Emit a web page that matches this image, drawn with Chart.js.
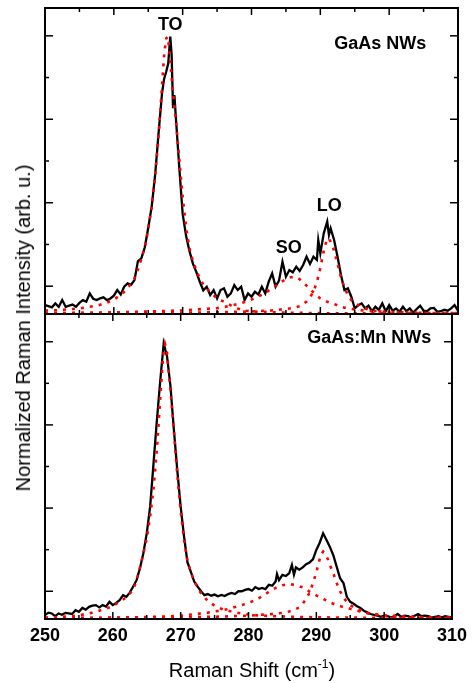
<!DOCTYPE html>
<html>
<head>
<meta charset="utf-8">
<script src="https://cdn.jsdelivr.net/npm/chart.js@4"></script>
<style>
html,body{margin:0;padding:0;background:#fff;}
body{width:473px;height:683px;position:relative;overflow:hidden;font-family:"Liberation Sans",Arial,sans-serif;color:#000;}
#topWrap{position:absolute;left:0;top:0;width:473px;height:330px;}
#botWrap{position:absolute;left:0;top:300px;width:473px;height:383px;}
.ytitle{position:absolute;left:23px;top:328px;transform:translate(-50%,-50%) rotate(-90deg);white-space:nowrap;font-size:20px;line-height:22px;}
.xtitle{position:absolute;left:252px;top:670px;transform:translate(-50%,-50%);white-space:nowrap;font-size:20px;line-height:22px;}
.xtitle sup{font-size:12px;line-height:0;vertical-align:9px;}
</style>
</head>
<body>
<div id="topWrap"><canvas id="topChart"></canvas></div>
<div id="botWrap"><canvas id="botChart"></canvas></div>
<div class="ytitle">Normalized Raman Intensity (arb. u.)</div>
<div class="xtitle">Raman Shift (cm<sup>-1</sup>)</div>
<script>
// ---------- axis ticks ----------
const xMajorTicks = [250, 260, 270, 280, 290, 300, 310];
const xMinorTicks = [255, 265, 275, 285, 295, 305];
const yMajorTicks = [0.1, 0.4, 0.7, 1.0];
const yMinorTicks = [0.25, 0.55, 0.85];

// ---------- GaAs NWs (top panel): measured spectrum ----------
const gaasShift = [
250,250.5,251,251.5,252,252.5,253,253.5,254,254.5,
255,255.5,256,256.5,257,257.5,258,258.5,259,259.5,
260,260.5,261,261.5,262,262.5,263,263.5,264,264.5,
265,265.5,266,266.5,267,267.3,267.6,267.9,268.2,268.4,
268.6,268.8,269,269.5,270,270.5,271,271.5,272,272.5,
273,273.5,274,274.5,275,275.5,276,276.5,277,277.5,
278,278.5,279,279.5,280,280.5,281,281.5,282,282.5,
283,283.5,284,284.5,285,285.5,286,286.5,287,287.5,
288,288.5,289,289.5,289.7,290,290.5,291,291.25,291.5,
292,292.5,293,293.5,294,294.5,295,295.5,296,296.5,
297,297.5,298,298.5,299,299.5,300,300.5,301,301.5,
302,302.5,303,303.5,304,304.5,305,305.5,306,306.5,
307,307.5,308,308.5,309,309.5,310];
const gaasIntensity = [
0.032,0.028,0.024,0.038,0.026,0.050,0.026,0.030,0.034,0.026,
0.040,0.050,0.044,0.074,0.055,0.050,0.056,0.060,0.050,0.056,
0.066,0.086,0.070,0.098,0.110,0.105,0.122,0.190,0.200,0.240,
0.310,0.386,0.500,0.650,0.793,0.845,0.870,0.900,0.997,0.930,
0.740,0.787,0.710,0.530,0.360,0.280,0.225,0.180,0.150,0.115,
0.085,0.098,0.068,0.086,0.056,0.086,0.092,0.062,0.074,0.104,
0.086,0.098,0.050,0.074,0.062,0.080,0.070,0.098,0.074,0.116,
0.146,0.098,0.120,0.188,0.134,0.158,0.150,0.170,0.155,0.176,
0.206,0.180,0.206,0.194,0.266,0.218,0.290,0.332,0.284,0.308,
0.266,0.206,0.140,0.086,0.092,0.062,0.020,0.032,0.038,0.020,
0.030,0.010,0.026,0.015,0.038,0.010,0.032,0.012,0.020,0.008,
0.026,0.010,0.020,0.005,0.018,0.030,0.012,0.010,0.020,0.022,
0.008,0.010,0.015,0.012,0.020,0.032,0.012];

// ---------- GaAs NWs: fitted components ----------
const gaasTOShift = [250,252,254,255,256,257,258,259,260,261,262,263,263.5,264,264.5,265,265.5,266,266.5,267,267.3,267.6,267.8,268,268.5,269,269.5,270,270.5,271,271.5,272,272.5,273,274,275,276,277,278,279,280,285,290,300,310];
const gaasTOFit = [0.012,0.014,0.018,0.020,0.024,0.028,0.033,0.041,0.052,0.068,0.092,0.128,0.160,0.198,0.240,0.305,0.385,0.495,0.640,0.820,0.930,0.990,0.997,0.965,0.820,0.700,0.560,0.420,0.310,0.235,0.190,0.155,0.128,0.106,0.078,0.056,0.044,0.031,0.020,0.012,0.009,0.005,0.003,0.002,0.002];
const gaasSOShift = [250,255,260,265,270,273,275,276,277,278,279,280,281,282,283,284,285,285.7,286.4,287,287.9,288.5,289.3,290,291,292,293,294,295,297,300,305,310];
const gaasSOFit = [0.003,0.004,0.006,0.009,0.013,0.018,0.021,0.025,0.030,0.036,0.043,0.052,0.063,0.076,0.092,0.110,0.125,0.132,0.133,0.125,0.104,0.090,0.070,0.056,0.044,0.036,0.026,0.020,0.016,0.011,0.007,0.004,0.003];
const gaasLOShift = [250,260,270,275,280,283,285,286,287,287.5,288,288.5,289,289.5,290,290.5,291,291.4,291.9,292.4,293,293.5,294,294.5,295,296,297,298,300,305,310];
const gaasLOFit = [0.003,0.004,0.005,0.006,0.009,0.013,0.018,0.022,0.028,0.035,0.045,0.060,0.080,0.115,0.165,0.228,0.272,0.265,0.235,0.190,0.132,0.095,0.068,0.050,0.038,0.025,0.016,0.011,0.007,0.004,0.003];

// ---------- GaAs:Mn NWs (bottom panel): measured spectrum ----------
const mnShift = [
250,250.5,251,251.5,252,252.5,253,253.5,254,254.5,
255,255.5,256,256.5,257,257.5,258,258.5,259,259.5,
260,260.5,261,261.5,262,262.5,263,263.5,264,264.5,
265,265.5,266,266.5,267,267.5,268,268.5,269,269.5,
270,270.5,271,271.5,272,272.5,273,273.5,274,274.5,
275,275.5,276,276.5,277,277.5,278,278.5,279,279.5,
280,280.5,281,281.5,282,282.5,283,283.5,284,284.2,
284.5,285,285.5,286,286.4,286.7,287,287.5,288,288.5,
289,289.5,290,290.5,291,291.5,292,292.5,293,293.5,
294,294.5,295,295.5,296,296.5,297,297.5,298,298.5,
299,299.5,300,300.5,301,301.5,302,302.5,303,303.5,
304,304.5,305,305.5,306,306.5,307,307.5,308,308.5,
309,309.5,310];
const mnIntensity = [
0.014,0.023,0.020,0.010,0.020,0.015,0.022,0.020,0.018,0.032,
0.026,0.040,0.034,0.044,0.048,0.050,0.042,0.050,0.045,0.062,
0.050,0.058,0.068,0.086,0.080,0.095,0.117,0.140,0.183,0.237,
0.309,0.405,0.561,0.718,0.862,0.994,0.946,0.838,0.682,0.537,
0.405,0.297,0.205,0.170,0.135,0.117,0.100,0.086,0.090,0.084,
0.088,0.082,0.087,0.083,0.090,0.094,0.090,0.100,0.100,0.105,
0.108,0.102,0.115,0.108,0.112,0.108,0.123,0.120,0.135,0.162,
0.140,0.159,0.155,0.165,0.195,0.160,0.186,0.178,0.186,0.198,
0.204,0.215,0.249,0.275,0.309,0.285,0.260,0.230,0.189,0.147,
0.130,0.080,0.062,0.055,0.046,0.040,0.030,0.024,0.018,0.015,
0.012,0.008,0.012,0.010,0.006,0.010,0.018,0.008,0.012,0.010,
0.006,0.012,0.018,0.010,0.012,0.010,0.006,0.008,0.010,0.006,
0.010,0.008,0.006];

// ---------- GaAs:Mn NWs: fitted components ----------
const mnTOShift = [250,252,254,255,256,257,258,259,260,261,262,263,263.5,264,264.5,265,265.5,266,266.5,267,267.4,267.7,268,268.4,268.7,269,269.5,270,270.5,271,271.5,272,272.5,273,274,275,276,277,278,279,280,282,285,290,295,300,310];
const mnTOFit = [0.005,0.007,0.010,0.013,0.018,0.023,0.030,0.037,0.047,0.062,0.078,0.105,0.140,0.185,0.235,0.290,0.370,0.470,0.610,0.800,0.946,0.990,0.960,0.850,0.766,0.680,0.520,0.390,0.285,0.210,0.168,0.138,0.113,0.093,0.065,0.048,0.037,0.030,0.024,0.020,0.016,0.012,0.009,0.006,0.005,0.004,0.003];
const mnSOShift = [250,255,260,265,268,270,272,274,276,277,278,279,280,281,282,283,284,285,286,287,288,289,290,291,292,293,294,295,296,297,298,300,303,306,310];
const mnSOFit = [0.003,0.004,0.005,0.007,0.009,0.012,0.017,0.023,0.031,0.036,0.043,0.050,0.058,0.068,0.082,0.098,0.112,0.122,0.126,0.122,0.114,0.099,0.085,0.073,0.060,0.050,0.043,0.037,0.030,0.024,0.019,0.013,0.009,0.006,0.005];
const mnLOShift = [250,260,270,275,280,283,285,286,287,287.5,288,288.5,289,289.5,290,290.4,290.7,291,291.3,291.75,292,292.5,293,293.5,294,294.5,295,296,297,298,300,303,306,310];
const mnLOFit = [0.003,0.004,0.006,0.008,0.012,0.017,0.022,0.027,0.036,0.042,0.055,0.072,0.095,0.129,0.168,0.207,0.233,0.243,0.235,0.213,0.195,0.165,0.130,0.100,0.077,0.062,0.050,0.036,0.025,0.018,0.011,0.007,0.005,0.004];

// ---------- panel annotations (text, x in cm-1, y in normalized units) ----------
const topNotes = [
  {text: 'TO', x: 268.2, y: 1.046},
  {text: 'SO', x: 285.4, y: 0.242},
  {text: 'LO', x: 291.3, y: 0.392},
  {text: 'GaAs NWs', x: 298.7, y: 0.977}
];
const bottomNotes = [
  {text: 'GaAs:Mn NWs', x: 297.8, y: 1.018}
];

const FONT = '"Liberation Sans", Arial, Helvetica, sans-serif';

function pts(xs, ys) { return xs.map((x, i) => ({x: x, y: ys[i]})); }

const frameTicks = {
  id: 'frameTicks',
  afterDatasetsDraw(chart) {
    const ctx = chart.ctx, a = chart.chartArea, xs = chart.scales.x, ys = chart.scales.y;
    ctx.save();
    ctx.strokeStyle = '#000';
    const seg = (x1, y1, x2, y2) => { ctx.beginPath(); ctx.moveTo(x1, y1); ctx.lineTo(x2, y2); ctx.stroke(); };
    ctx.lineWidth = 1.5;
    xMajorTicks.forEach(v => { const p = xs.getPixelForValue(v); seg(p, a.bottom, p, a.bottom - 7); seg(p, a.top, p, a.top + 7); });
    xMinorTicks.forEach(v => { const p = xs.getPixelForValue(v); seg(p, a.bottom, p, a.bottom - 4); seg(p, a.top, p, a.top + 4); });
    yMajorTicks.forEach(v => { const p = ys.getPixelForValue(v); seg(a.left, p, a.left + 8, p); seg(a.right, p, a.right - 8, p); });
    yMinorTicks.forEach(v => { const p = ys.getPixelForValue(v); seg(a.left, p, a.left + 4, p); seg(a.right, p, a.right - 4, p); });
    ctx.lineWidth = 2;
    ctx.strokeRect(a.left, a.top, a.right - a.left, a.bottom - a.top);
    ctx.restore();
  }
};

const panelText = {
  id: 'panelText',
  afterDatasetsDraw(chart, args, opts) {
    const ctx = chart.ctx, xs = chart.scales.x, ys = chart.scales.y;
    ctx.save();
    ctx.fillStyle = '#000';
    ctx.font = 'bold 18px ' + FONT;
    ctx.textAlign = 'center';
    ctx.textBaseline = 'alphabetic';
    (opts.items || []).forEach(it => {
      ctx.fillText(it.text, xs.getPixelForValue(it.x), ys.getPixelForValue(it.y) + 6.5);
    });
    ctx.restore();
  }
};

function dataLine(xs, ys) {
  return {data: pts(xs, ys), showLine: true, borderColor: '#000', borderWidth: 2.3, pointRadius: 0, tension: 0, order: 2};
}
function fitLine(xs, ys) {
  return {data: pts(xs, ys), showLine: true, borderColor: '#ff0000', borderWidth: 2.6, borderDash: [3, 6], pointRadius: 0, tension: 0, order: 1};
}

function makeChart(id, datasets, padding, withLabels, notes) {
  return new Chart(document.getElementById(id), {
    type: 'scatter',
    data: {datasets: datasets},
    options: {
      responsive: true,
      maintainAspectRatio: false,
      animation: false,
      events: [],
      layout: {padding: padding},
      plugins: {legend: {display: false}, tooltip: {enabled: false}, title: {display: false}, panelText: {items: notes}},
      scales: {
        x: {
          type: 'linear', min: 250, max: 310, display: withLabels,
          afterBuildTicks: s => { s.ticks = xMajorTicks.map(v => ({value: v})); },
          afterFit: s => { s.height = withLabels ? 40 : 0; },
          grid: {display: false, drawTicks: false},
          border: {display: false},
          ticks: {font: {family: FONT, size: 18, weight: 'bold'}, color: '#000', padding: 6, maxRotation: 0, autoSkip: false}
        },
        y: {type: 'linear', min: 0, max: 1.1, display: false, afterFit: s => { s.width = 0; }}
      }
    },
    plugins: [frameTicks, panelText]
  });
}

makeChart('topChart', [
  dataLine(gaasShift, gaasIntensity),
  fitLine(gaasTOShift, gaasTOFit),
  fitLine(gaasSOShift, gaasSOFit),
  fitLine(gaasLOShift, gaasLOFit)
], {left: 45, right: 15, top: 8, bottom: 16}, false, topNotes);

makeChart('botChart', [
  dataLine(mnShift, mnIntensity),
  fitLine(mnTOShift, mnTOFit),
  fitLine(mnSOShift, mnSOFit),
  fitLine(mnLOShift, mnLOFit)
], {left: 45, right: 15, top: 14, bottom: 24}, true, bottomNotes);
</script>
</body>
</html>
